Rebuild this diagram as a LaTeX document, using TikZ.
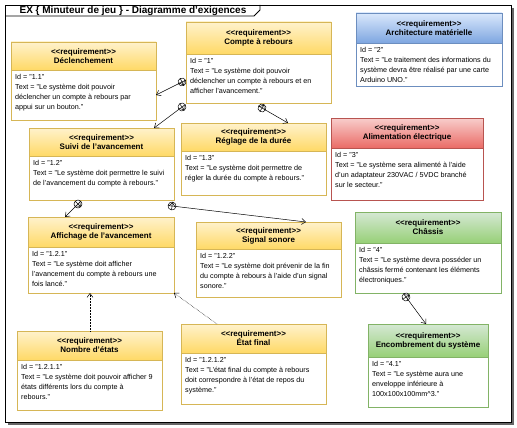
\documentclass[tikz,border=0pt]{standalone}
\usepackage{fontspec}
\setmainfont{Liberation Sans}
\usetikzlibrary{arrows.meta,calc,decorations.markings}

\definecolor{yeltop}{HTML}{FFF2CC}
\definecolor{yelbot}{HTML}{FFD966}
\definecolor{yelline}{HTML}{D6B656}
\definecolor{blutop}{HTML}{DAE8FC}
\definecolor{blubot}{HTML}{7EA6E0}
\definecolor{bluline}{HTML}{6C8EBF}
\definecolor{redtop}{HTML}{F8CECC}
\definecolor{redbot}{HTML}{EA6B66}
\definecolor{redline}{HTML}{B85450}
\definecolor{grntop}{HTML}{D5E8D4}
\definecolor{grnbot}{HTML}{97D077}
\definecolor{grnline}{HTML}{82B366}

\newcommand{\stereo}{<\kern0pt<requirement>\kern0pt>}
% #1 name, #2 colours, #3-#6 corners, #7 bottom of the header
\newcommand{\exigence}[9]{%
\node[inner sep=0, outer sep=0, fill=white, minimum width={(#5-#3)*1pt}, minimum height={(#6-#4)*1pt}, anchor=north west] (#1) at (#3,#4) {};
\shade[top color=#2top, bottom color=#2bot] (#3,#4) rectangle (#5,#7);
\draw[#2line, line width=.8pt] (#3,#4) rectangle (#5,#6) (#3,#7) -- (#5,#7);
\node[reqhead] at ({(#3+#5)/2},{(#4+#7)/2}) {\stereo\\#8};
\node[reqtext] at (#3+4,#7+4.5) {#9};
}

\tikzset{
  reqhead/.style={align=center, inner sep=0, font=\bfseries\fontsize{8}{9}\selectfont},
  reqtext/.style={align=left, inner sep=0, anchor=north west, font=\fontsize{7.2}{10}\selectfont},
  contain/.style={line width=.5pt, -{Straight Barb[length=4pt,width=6pt]},
    postaction={decorate, decoration={markings, mark=at position 0pt with
      {\draw[line width=.5pt, fill=white] (0,0) circle (4pt);
       \draw[line width=.5pt] (-4pt,0) -- (4pt,0) (0,-4pt) -- (0,4pt);}}}},
  derive/.style={line width=.5pt, densely dotted, -{Straight Barb[length=4pt,width=6pt]}},
}

\begin{document}
\begin{tikzpicture}[x=1pt, y=-1pt]
\useasboundingbox (0,0) rectangle (517,428);
% frame
\draw[black!60, line width=2pt] (513,8) -- (513,424) -- (8,424);
\draw[line width=.8pt, fill=white] (5,5) rectangle (511,422);
\draw[line width=.8pt] (5,16) -- (254,16) -- (260,10) -- (260,5);
\node[font=\bfseries\fontsize{10}{11}\selectfont, inner sep=0] (title) at (133,10.5) {EX \{ Minuteur de jeu \} - Diagramme d'exigences};

% requirements
\exigence{dec}{yel}{11}{42}{156}{120}{70}{Déclenchement}{Id = "1.1"\\Text = "Le système doit pouvoir\\déclencher un compte à rebours par\\appui sur un bouton."}
\exigence{cpt}{yel}{186}{22}{331}{103}{54}{Compte à rebours}{Id = "1"\\Text = "Le système doit pouvoir\\déclencher un compte à rebours et en\\afficher l'avancement."}
\exigence{archi}{blu}{356}{13}{502}{86}{43}{Architecture matérielle}{Id = "2"\\Text = "Le traitement des informations du\\système devra être réalisé par une carte\\Arduino UNO."}
\exigence{suivi}{yel}{29}{128}{174}{200}{156}{Suivi de l'avancement}{Id = "1.2"\\Text = "Le système doit permettre le suivi\\de l'avancement du compte à rebours."}
\exigence{reg}{yel}{181}{123}{326}{195}{151}{Réglage de la durée}{Id = "1.3"\\Text = "Le système doit permettre de\\régler la durée du compte à rebours."}
\exigence{alim}{red}{331}{118}{483}{200}{148}{Alimentation électrique}{Id = "3"\\Text = "Le système sera alimenté à l'aide\\d'un adaptateur 230VAC / 5VDC branché\\sur le secteur."}
\exigence{aff}{yel}{28}{217}{174}{293}{247}{Affichage de l'avancement}{Id = "1.2.1"\\Text = "Le système doit afficher\\l'avancement du compte à rebours une\\fois lancé."}
\exigence{sig}{yel}{196}{222}{341}{297}{249}{Signal sonore}{Id = "1.2.2"\\Text = "Le système doit prévenir de la fin\\du compte à rebours à l'aide d'un signal\\sonore."}
\exigence{chassis}{grn}{355}{212}{501}{293}{243}{Châssis}{Id = "4"\\Text = "Le système devra posséder un\\châssis fermé contenant les éléments\\électroniques."}
\exigence{nbr}{yel}{17}{331}{162}{410}{360}{Nombre d'états}{Id = "1.2.1.1"\\Text = "Le système doit pouvoir afficher 9\\états différents lors du compte à\\rebours."}
\exigence{fin}{yel}{181}{324}{326}{404}{353}{État final}{Id = "1.2.1.2"\\Text = "L'état final du compte à rebours\\doit correspondre à l'état de repos du\\système."}
\exigence{enc}{grn}{368}{324}{488}{407}{357}{Encombrement du système}{Id = "4.1"\\Text = "Le système aura une\\enveloppe inférieure à\\100x100x100mm\textasciicircum 3."}

% containment
\draw[contain] ($(cpt.north west)+(-4,60)$) -- ($(dec.north east)+(0,53)$);
\draw[contain] ($(cpt.south west)+(-4,4)$) -- ($(suivi.north west)+(125,0)$);
\draw[contain] ($(cpt.south west)+(76,5)$) -- ($(reg.north west)+(107,0)$);
\draw[contain] ($(suivi.south west)+(49,4)$) -- ($(aff.north west)+(37,0)$);
\draw[contain] ($(suivi.south east)+(-2,6)$) -- ($(sig.north west)+(110,0)$);
\draw[contain] ($(chassis.south west)+(51,4)$) -- ($(enc.north west)+(58,0)$);
% derivation
\draw[derive] ($(nbr.north west)+(73,0)$) -- ($(aff.south west)+(62,0)$);
\draw[derive] ($(fin.north west)+(36,0)$) -- (aff.south east);
\end{tikzpicture}
\end{document}
